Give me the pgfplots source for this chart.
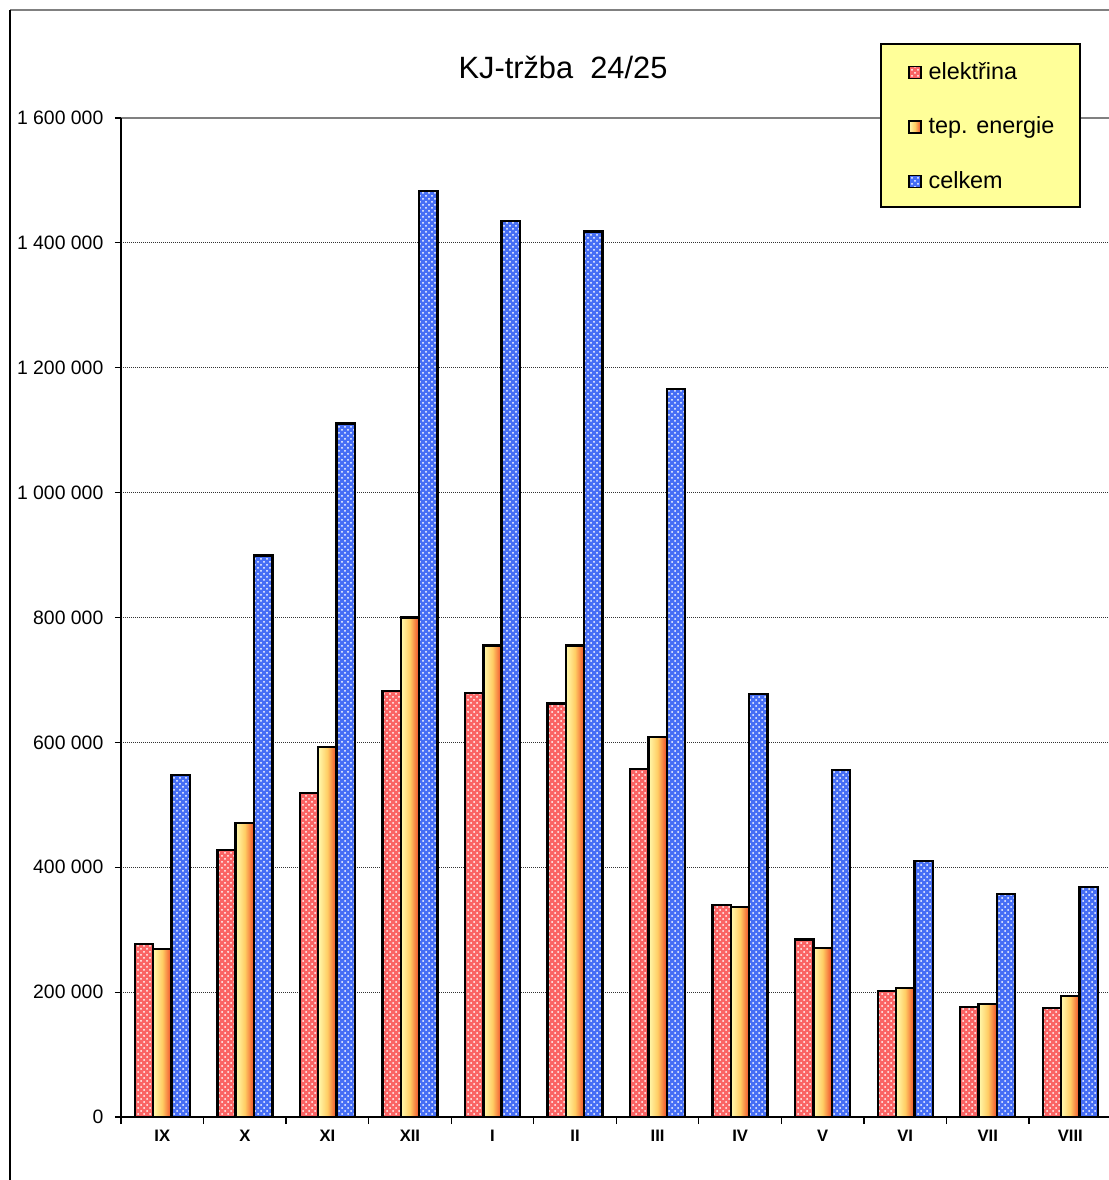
\documentclass[border=0pt]{standalone}
\usepackage{pgfplots}
\pgfplotsset{compat=1.18}
\usepackage{fontspec}
\setmainfont{Liberation Sans}
\usetikzlibrary{patterns}

\definecolor{elred}{RGB}{250,100,100}
\definecolor{celblue}{RGB}{70,110,245}
\definecolor{legyellow}{RGB}{255,255,153}
\definecolor{tepL}{RGB}{255,250,175}
\definecolor{tepM}{RGB}{255,205,100}
\definecolor{tepR}{RGB}{240,75,40}

% months IX..VIII, values in CZK
\pgfplotstableread{
x elektrina tep celkem
0  277000 269000  548000
1  428000 471000  899000
2  519000 593000 1111000
3  682000 800000 1483000
4  679000 755000 1435000
5  662000 755000 1418000
6  557000 609000 1166000
7  340000 336000  677000
8  284000 271000  556000
9  202000 207000  410000
10 176000 181000  357000
11 175000 194000  368000
}\trzba

\begin{document}
\begin{tikzpicture}
\useasboundingbox (0,0) rectangle (554.5pt,590pt);
% chart area frame
\draw[gray, line width=1pt] (5pt,585pt) -- (554.5pt,585pt);
\draw[black, line width=0.6pt] (5pt,585pt) -- (5pt,0pt);
\node[font=\fontsize{15.4}{18}\selectfont] at (281.5pt,556.5pt) {KJ-tržba\ \ 24/25};
% plot area top border, then legend box over it
\draw[gray, line width=1pt] (60.5pt,531pt) -- (554.5pt,531pt);
\filldraw[fill=legyellow, draw=black, line width=0.6pt] (440.5pt,486.5pt) rectangle (540pt,568pt);

\begin{axis}[
  at={(60.5pt,31.5pt)}, anchor=south west,
  scale only axis,
  width=495.3pt, height=499.5pt,
  xmin=-0.5, xmax=11.5,
  ymin=0, ymax=1600000,
  scaled y ticks=false,
  ybar=0pt, bar width=0.222,
  axis x line*=bottom, axis y line*=left,
  axis line style={black, line width=0.6pt},
  tick align=outside,
  major tick length=3pt, minor tick length=3.5pt,
  xtick={0,...,11},
  xticklabels={IX,X,XI,XII,I,II,III,IV,V,VI,VII,VIII},
  minor xtick={-0.5,0.5,...,11.5},
  every major x tick/.append style={draw=none},
  every minor x tick/.append style={black, line width=0.6pt},
  ytick={0,200000,...,1400000},
  yticklabels={0,200 000,400 000,600 000,800 000,1 000 000,1 200 000,1 400 000},
  extra y ticks={1600000},
  extra y tick labels={1 600 000},
  extra y tick style={grid=none},
  y tick style={black, line width=0.6pt},
  xticklabel style={font=\bfseries\fontsize{8.3}{10}\selectfont},
  yticklabel style={font=\fontsize{9.7}{11.6}\selectfont, xshift=-2.3pt},
  ymajorgrids=true,
  major grid style={black!80, line width=0.5pt, dash pattern=on 0.5pt off 0.5pt},
  legend style={draw=none, fill=none, at={(axis description cs:0.7884,1.064)},
    anchor=north west, row sep=13.25pt,
    font=\fontsize{11.7}{14}\selectfont,
    /tikz/every odd column/.append style={column sep=1.5pt}},
  legend cell align=left,
  legend image code/.code={\draw[#1, line width=0.6pt] (0pt,-3pt) rectangle (6pt,3pt);},
  tep/.style={draw=black, line width=1.2pt, bar shift=0,
    left color=tepL, right color=tepR, middle color=tepM},
]
\addplot[draw=black, line width=1.2pt, fill=elred, bar shift=-0.222,
  postaction={pattern=crosshatch dots, pattern color=white}]
  table[x=x, y=elektrina] {\trzba};
% one plot per bar so that each bar gets its own gradient
\addplot[tep] coordinates {(0,269000)};
\addplot[tep, forget plot] coordinates {(1,471000)};
\addplot[tep, forget plot] coordinates {(2,593000)};
\addplot[tep, forget plot] coordinates {(3,800000)};
\addplot[tep, forget plot] coordinates {(4,755000)};
\addplot[tep, forget plot] coordinates {(5,755000)};
\addplot[tep, forget plot] coordinates {(6,609000)};
\addplot[tep, forget plot] coordinates {(7,336000)};
\addplot[tep, forget plot] coordinates {(8,271000)};
\addplot[tep, forget plot] coordinates {(9,207000)};
\addplot[tep, forget plot] coordinates {(10,181000)};
\addplot[tep, forget plot] coordinates {(11,194000)};
\addplot[draw=black, line width=1.2pt, fill=celblue, bar shift=0.222,
  postaction={pattern=crosshatch dots, pattern color=white}]
  table[x=x, y=celkem] {\trzba};
\legend{elektřina, tep. energie, celkem}
\end{axis}
\end{tikzpicture}
\end{document}
